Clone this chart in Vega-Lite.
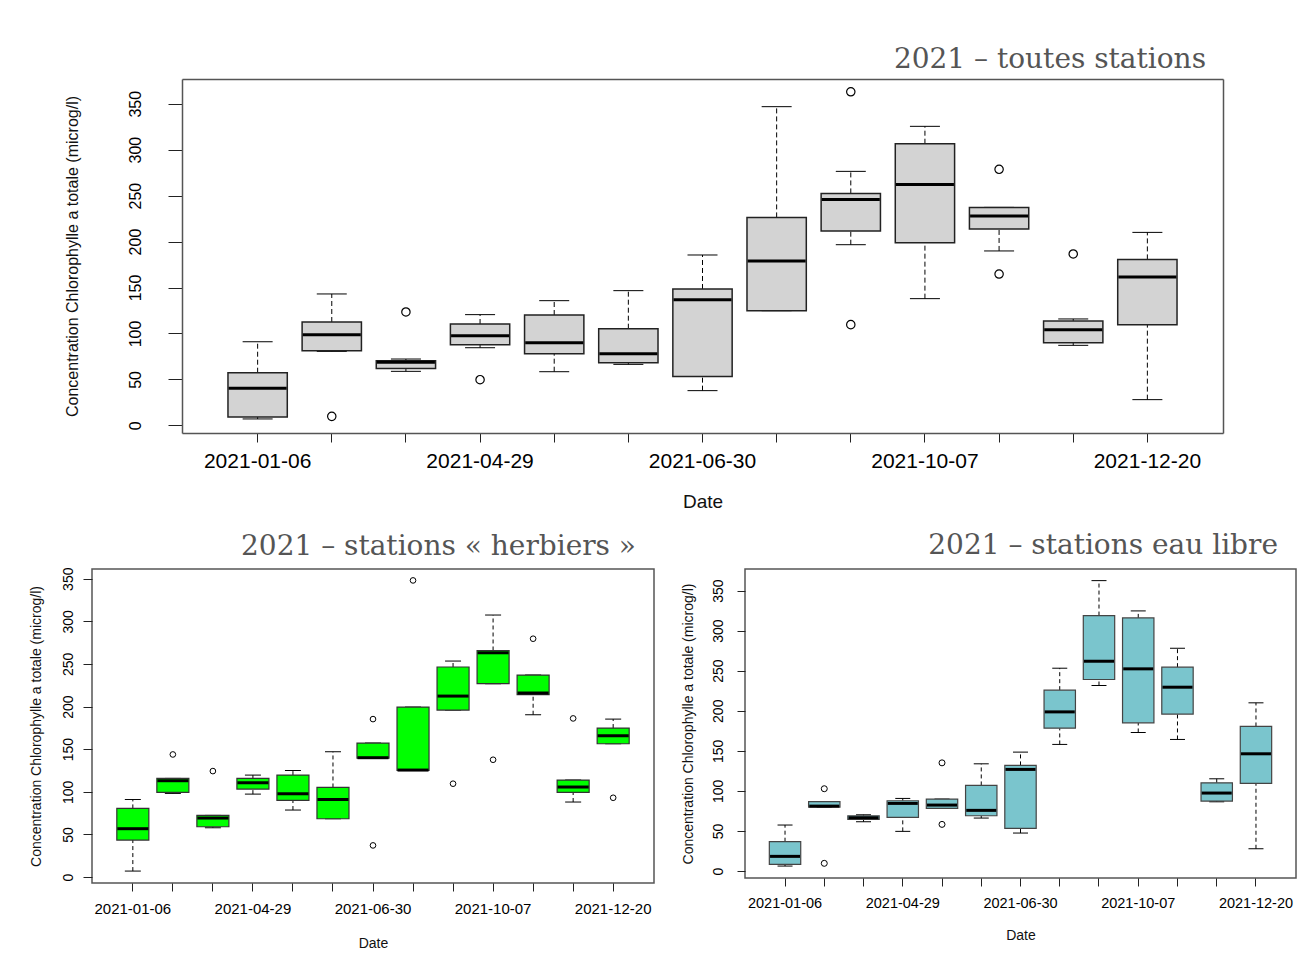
{
  "$schema": "https://vega.github.io/schema/vega-lite/v6.json",
  "background": "white",
  "padding": {"left": 28, "top": 46, "right": 0, "bottom": 0},
  "config": {
    "font": "Liberation Sans",
    "axis": {"labelColor": "#000", "titleColor": "#111", "tickColor": "#222", "labelFont": "Liberation Sans", "titleFont": "Liberation Sans", "titleFontWeight": "normal", "grid": false},
    "view": {"stroke": "#555", "strokeWidth": 1.5}
  },
  "datasets": {
    "toutes": [
      {"date": "2021-01-06", "min": 7.0, "q1": 9.1, "median": 40.3, "q3": 57.3, "max": 91},
      {"date": "2021-02-09", "min": 80.5, "q1": 81.3, "median": 98.7, "q3": 112.5, "max": 143},
      {"date": "2021-03-25", "min": 58.8, "q1": 62, "median": 68.6, "q3": 70.4, "max": 72.2},
      {"date": "2021-04-29", "min": 84.5, "q1": 87.8, "median": 97.6, "q3": 110.3, "max": 120.5},
      {"date": "2021-05-27", "min": 58.4, "q1": 78, "median": 90, "q3": 120.1, "max": 135.7},
      {"date": "2021-06-15", "min": 66.4, "q1": 68.2, "median": 78, "q3": 105.2, "max": 146.6},
      {"date": "2021-06-30", "min": 37.8, "q1": 53.3, "median": 136.8, "q3": 148.4, "max": 185.4},
      {"date": "2021-07-29", "min": 124.8, "q1": 124.8, "median": 178.9, "q3": 226.3, "max": 346.8},
      {"date": "2021-09-01", "min": 196.6, "q1": 211.5, "median": 245.9, "q3": 252.4, "max": 276.4},
      {"date": "2021-10-07", "min": 137.9, "q1": 198.8, "median": 262.2, "q3": 306.5, "max": 325.4},
      {"date": "2021-11-04", "min": 189.8, "q1": 213.7, "median": 227.8, "q3": 237.2, "max": 237.2},
      {"date": "2021-12-02", "min": 87.1, "q1": 90, "median": 104.1, "q3": 113.6, "max": 115.8},
      {"date": "2021-12-20", "min": 28, "q1": 109.6, "median": 161.5, "q3": 180.6, "max": 210}
    ],
    "toutes_out": [
      {"date": "2021-02-09", "value": 9.8},
      {"date": "2021-03-25", "value": 123.4},
      {"date": "2021-04-29", "value": 49.7},
      {"date": "2021-09-01", "value": 363},
      {"date": "2021-09-01", "value": 109.6},
      {"date": "2021-11-04", "value": 278.6},
      {"date": "2021-11-04", "value": 164.7},
      {"date": "2021-12-02", "value": 186.5}
    ],
    "herbiers": [
      {"date": "2021-01-06", "min": 7.0, "q1": 43.4, "median": 56.7, "q3": 80.5, "max": 91},
      {"date": "2021-02-09", "min": 98.1, "q1": 99.3, "median": 113, "q3": 115.7, "max": 115.7},
      {"date": "2021-03-25", "min": 57.8, "q1": 59, "median": 69.2, "q3": 72.3, "max": 72.3},
      {"date": "2021-04-29", "min": 97.3, "q1": 103.2, "median": 110.6, "q3": 115.7, "max": 119.6},
      {"date": "2021-05-27", "min": 78.6, "q1": 89.9, "median": 97.7, "q3": 119.6, "max": 125},
      {"date": "2021-06-15", "min": 68.4, "q1": 68.4, "median": 91, "q3": 105.1, "max": 147},
      {"date": "2021-06-30", "min": 139.5, "q1": 139.5, "median": 140, "q3": 157.2, "max": 157.2},
      {"date": "2021-07-29", "min": 125, "q1": 125, "median": 125.5, "q3": 199.4, "max": 199.4},
      {"date": "2021-09-01", "min": 195.9, "q1": 195.9, "median": 212.3, "q3": 246.4, "max": 253.4},
      {"date": "2021-10-07", "min": 226.8, "q1": 226.8, "median": 263.1, "q3": 265.8, "max": 307.4},
      {"date": "2021-11-04", "min": 190.4, "q1": 213.9, "median": 215.9, "q3": 237, "max": 237},
      {"date": "2021-12-02", "min": 88, "q1": 99.3, "median": 105.6, "q3": 113.8, "max": 113.8},
      {"date": "2021-12-20", "min": 156.4, "q1": 156.4, "median": 165.8, "q3": 174.8, "max": 185.3}
    ],
    "herbiers_out": [
      {"date": "2021-02-09", "value": 143.8},
      {"date": "2021-03-25", "value": 124.3},
      {"date": "2021-06-30", "value": 185.3},
      {"date": "2021-06-30", "value": 37.1},
      {"date": "2021-07-29", "value": 348},
      {"date": "2021-09-01", "value": 109.5},
      {"date": "2021-10-07", "value": 137.6},
      {"date": "2021-11-04", "value": 279.6},
      {"date": "2021-12-02", "value": 186.1},
      {"date": "2021-12-20", "value": 93}
    ],
    "libre": [
      {"date": "2021-01-06", "min": 6.2, "q1": 8.3, "median": 18.3, "q3": 36.6, "max": 57.4},
      {"date": "2021-02-09", "min": 79.8, "q1": 79.8, "median": 81, "q3": 86.5, "max": 86.5},
      {"date": "2021-03-25", "min": 61.5, "q1": 64.4, "median": 66.5, "q3": 69, "max": 70.2},
      {"date": "2021-04-29", "min": 49.5, "q1": 67, "median": 84.4, "q3": 87.7, "max": 90.6},
      {"date": "2021-05-27", "min": 78.2, "q1": 78.2, "median": 82.3, "q3": 89.8, "max": 89.8},
      {"date": "2021-06-15", "min": 66.1, "q1": 69, "median": 75.7, "q3": 106.8, "max": 133.8},
      {"date": "2021-06-30", "min": 47.4, "q1": 53.2, "median": 126.8, "q3": 131.8, "max": 148.4},
      {"date": "2021-07-29", "min": 158, "q1": 178.3, "median": 198.6, "q3": 225.7, "max": 253.1},
      {"date": "2021-09-01", "min": 231.5, "q1": 239, "median": 261.8, "q3": 318.8, "max": 362.4},
      {"date": "2021-10-07", "min": 172.9, "q1": 184.9, "median": 252.3, "q3": 315.9, "max": 324.6},
      {"date": "2021-11-04", "min": 164.2, "q1": 195.8, "median": 229.4, "q3": 254.4, "max": 278},
      {"date": "2021-12-02", "min": 86.4, "q1": 87.3, "median": 97.3, "q3": 110.1, "max": 115.1},
      {"date": "2021-12-20", "min": 27.8, "q1": 109.4, "median": 146.3, "q3": 180.4, "max": 209.9}
    ],
    "libre_out": [
      {"date": "2021-02-09", "value": 102.7},
      {"date": "2021-02-09", "value": 9.6},
      {"date": "2021-05-27", "value": 135},
      {"date": "2021-05-27", "value": 58.2}
    ]
  },
  "spacing": 20,
  "center": false,
  "vconcat": [
    {
      "width": 1131,
      "height": 354,
      "view": {"stroke": null},
      "title": {"text": "2021 – toutes stations", "anchor": "end", "frame": "group", "dx": -17, "offset": 5, "font": "DejaVu Serif", "fontSize": 28, "fontWeight": "normal", "color": "#555"},
      "data": {"name": "toutes"},
      "resolve": {"axis": {"x": "independent", "y": "independent"}},
      "layer": [
        {
          "mark": {"type": "rule", "strokeDash": [5, 3], "color": "#000", "strokeWidth": 1},
          "encoding": {
            "x": {"field": "date", "type": "ordinal", "scale": {"type": "band", "domain": ["2021-01-06","2021-02-09","2021-03-25","2021-04-29","2021-05-27","2021-06-15","2021-06-30","2021-07-29","2021-09-01","2021-10-07","2021-11-04","2021-12-02","2021-12-20"], "range": [90, 1131], "paddingInner": 0, "paddingOuter": 0.52},
              "axis": {"orient": "bottom", "title": "Date", "domain": true, "domainColor": "#555", "domainWidth": 1.5, "tickSize": 9, "labelAngle": 0, "labelFontSize": 21, "labelPadding": 8, "labelOverlap": false, "titleFontSize": 19, "titlePadding": 21,
                "labelExpr": "indexof(['2021-01-06','2021-04-29','2021-06-30','2021-10-07','2021-12-20'], datum.value) >= 0 ? datum.value : ''"}},
            "y": {"field": "q3", "type": "quantitative", "scale": {"domain": [-8.3, 376.9], "nice": false, "zero": false},
              "axis": {"orient": "left", "offset": -90, "title": "Concentration Chlorophylle a totale (microg/l)", "values": [0, 50, 100, 150, 200, 250, 300, 350], "domain": true, "domainColor": "#555", "domainWidth": 1.5, "tickSize": 14, "labelAngle": 270, "labelAlign": "center", "labelBaseline": "bottom", "labelFontSize": 16, "labelPadding": 25, "titleFontSize": 16, "titlePadding": 47}},
            "y2": {"field": "max"}
          }
        },
        {
          "mark": {"type": "rule", "strokeDash": [5, 3], "color": "#000", "strokeWidth": 1},
          "encoding": {
            "x": {"field": "date", "type": "ordinal", "scale": {"type": "band"},
              "axis": {"orient": "top", "title": null, "domain": true, "domainColor": "#555", "domainWidth": 1.5, "ticks": false, "labels": false, "minExtent": 0}},
            "y": {"field": "min", "type": "quantitative",
              "axis": {"orient": "right", "title": null, "domain": true, "domainColor": "#555", "domainWidth": 1.5, "ticks": false, "labels": false, "minExtent": 0}},
            "y2": {"field": "q1"}
          }
        },
        {
          "mark": {"type": "tick", "size": 30, "thickness": 1, "color": "#000", "opacity": 1},
          "encoding": {
            "x": {"field": "date", "type": "ordinal", "scale": {"type": "band"}, "axis": null},
            "y": {"field": "max", "type": "quantitative", "axis": null}
          }
        },
        {
          "mark": {"type": "tick", "size": 30, "thickness": 1, "color": "#000", "opacity": 1},
          "encoding": {
            "x": {"field": "date", "type": "ordinal", "scale": {"type": "band"}, "axis": null},
            "y": {"field": "min", "type": "quantitative", "axis": null}
          }
        },
        {
          "mark": {"type": "bar", "width": {"band": 0.8}, "fill": "#D3D3D3", "stroke": "#222", "strokeWidth": 1.5},
          "encoding": {
            "x": {"field": "date", "type": "ordinal", "scale": {"type": "band"}, "axis": null},
            "y": {"field": "q1", "type": "quantitative", "axis": null},
            "y2": {"field": "q3"}
          }
        },
        {
          "mark": {"type": "tick", "size": 58, "thickness": 3, "color": "#000", "opacity": 1},
          "encoding": {
            "x": {"field": "date", "type": "ordinal", "scale": {"type": "band"}, "axis": null},
            "y": {"field": "median", "type": "quantitative", "axis": null}
          }
        },
        {
          "data": {"name": "toutes_out"},
          "mark": {"type": "point", "shape": "circle", "filled": false, "size": 70, "stroke": "#000", "strokeWidth": 1.2, "opacity": 1},
          "encoding": {
            "x": {"field": "date", "type": "ordinal", "scale": {"type": "band"}, "axis": null},
            "y": {"field": "value", "type": "quantitative", "axis": null}
          }
        }
      ]
    },
    {
      "spacing": 25,
      "center": false,
      "hconcat": [
        {
          "width": 562,
          "height": 314,
          "view": {"stroke": "#555", "strokeWidth": 1.5},
          "title": {"text": "2021 – stations « herbiers »", "anchor": "end", "frame": "group", "dx": -18, "offset": 6, "font": "DejaVu Serif", "fontSize": 28, "fontWeight": "normal", "color": "#555"},
          "data": {"name": "herbiers"},
          "resolve": {"axis": {"x": "independent", "y": "independent"}},
          "layer": [
            {
              "mark": {"type": "rule", "strokeDash": [4, 3], "color": "#000", "strokeWidth": 1},
              "encoding": {
                "x": {"field": "date", "type": "ordinal", "scale": {"type": "band", "domain": ["2021-01-06","2021-02-09","2021-03-25","2021-04-29","2021-05-27","2021-06-15","2021-06-30","2021-07-29","2021-09-01","2021-10-07","2021-11-04","2021-12-02","2021-12-20"], "paddingInner": 0, "paddingOuter": 0.52},
                  "axis": {"orient": "bottom", "title": "Date", "domain": false, "tickSize": 8, "labelAngle": 0, "labelFontSize": 15, "labelPadding": 10, "labelOverlap": false, "titleFontSize": 14, "titlePadding": 20,
                    "labelExpr": "indexof(['2021-01-06','2021-04-29','2021-06-30','2021-10-07','2021-12-20'], datum.value) >= 0 ? datum.value : ''"}},
                "y": {"field": "q3", "type": "quantitative", "scale": {"domain": [-7.0, 361.4], "nice": false, "zero": false},
                  "axis": {"orient": "left", "title": "Concentration Chlorophylle a totale (microg/l)", "values": [0, 50, 100, 150, 200, 250, 300, 350], "domain": false, "tickSize": 9, "labelAngle": 270, "labelAlign": "center", "labelBaseline": "bottom", "labelFontSize": 14, "labelPadding": 8, "titleFontSize": 14, "titlePadding": 18}},
                "y2": {"field": "max"}
              }
            },
            {
              "mark": {"type": "rule", "strokeDash": [4, 3], "color": "#000", "strokeWidth": 1},
              "encoding": {
                "x": {"field": "date", "type": "ordinal", "scale": {"type": "band"}, "axis": null},
                "y": {"field": "min", "type": "quantitative", "axis": null},
                "y2": {"field": "q1"}
              }
            },
            {
              "mark": {"type": "tick", "size": 16, "thickness": 1, "color": "#000", "opacity": 1},
              "encoding": {
                "x": {"field": "date", "type": "ordinal", "scale": {"type": "band"}, "axis": null},
                "y": {"field": "max", "type": "quantitative", "axis": null}
              }
            },
            {
              "mark": {"type": "tick", "size": 16, "thickness": 1, "color": "#000", "opacity": 1},
              "encoding": {
                "x": {"field": "date", "type": "ordinal", "scale": {"type": "band"}, "axis": null},
                "y": {"field": "min", "type": "quantitative", "axis": null}
              }
            },
            {
              "mark": {"type": "bar", "width": {"band": 0.8}, "fill": "#00FF00", "stroke": "#333", "strokeWidth": 1.2},
              "encoding": {
                "x": {"field": "date", "type": "ordinal", "scale": {"type": "band"}, "axis": null},
                "y": {"field": "q1", "type": "quantitative", "axis": null},
                "y2": {"field": "q3"}
              }
            },
            {
              "mark": {"type": "tick", "size": 31, "thickness": 3, "color": "#000", "opacity": 1},
              "encoding": {
                "x": {"field": "date", "type": "ordinal", "scale": {"type": "band"}, "axis": null},
                "y": {"field": "median", "type": "quantitative", "axis": null}
              }
            },
            {
              "data": {"name": "herbiers_out"},
              "mark": {"type": "point", "shape": "circle", "filled": false, "size": 32, "stroke": "#000", "strokeWidth": 1, "opacity": 1},
              "encoding": {
                "x": {"field": "date", "type": "ordinal", "scale": {"type": "band"}, "axis": null},
                "y": {"field": "value", "type": "quantitative", "axis": null}
              }
            }
          ]
        },
        {
          "width": 551,
          "height": 309,
          "view": {"stroke": "#555", "strokeWidth": 1.5},
          "title": {"text": "2021 – stations eau libre", "anchor": "end", "frame": "group", "dx": -18, "offset": 9, "font": "DejaVu Serif", "fontSize": 28, "fontWeight": "normal", "color": "#555"},
          "data": {"name": "libre"},
          "resolve": {"axis": {"x": "independent", "y": "independent"}},
          "layer": [
            {
              "mark": {"type": "rule", "strokeDash": [4, 3], "color": "#000", "strokeWidth": 1},
              "encoding": {
                "x": {"field": "date", "type": "ordinal", "scale": {"type": "band", "domain": ["2021-01-06","2021-02-09","2021-03-25","2021-04-29","2021-05-27","2021-06-15","2021-06-30","2021-07-29","2021-09-01","2021-10-07","2021-11-04","2021-12-02","2021-12-20"], "paddingInner": 0, "paddingOuter": 0.52},
                  "axis": {"orient": "bottom", "title": "Date", "domain": false, "tickSize": 8, "labelAngle": 0, "labelFontSize": 14.5, "labelPadding": 10, "labelOverlap": false, "titleFontSize": 14, "titlePadding": 19,
                    "labelExpr": "indexof(['2021-01-06','2021-04-29','2021-06-30','2021-10-07','2021-12-20'], datum.value) >= 0 ? datum.value : ''"}},
                "y": {"field": "q3", "type": "quantitative", "scale": {"domain": [-8.7, 376.9], "nice": false, "zero": false},
                  "axis": {"orient": "left", "title": "Concentration Chlorophylle a totale (microg/l)", "values": [0, 50, 100, 150, 200, 250, 300, 350], "domain": false, "tickSize": 8, "labelAngle": 270, "labelAlign": "center", "labelBaseline": "bottom", "labelFontSize": 14, "labelPadding": 12, "titleFontSize": 14, "titlePadding": 16}},
                "y2": {"field": "max"}
              }
            },
            {
              "mark": {"type": "rule", "strokeDash": [4, 3], "color": "#000", "strokeWidth": 1},
              "encoding": {
                "x": {"field": "date", "type": "ordinal", "scale": {"type": "band"}, "axis": null},
                "y": {"field": "min", "type": "quantitative", "axis": null},
                "y2": {"field": "q1"}
              }
            },
            {
              "mark": {"type": "tick", "size": 15, "thickness": 1, "color": "#000", "opacity": 1},
              "encoding": {
                "x": {"field": "date", "type": "ordinal", "scale": {"type": "band"}, "axis": null},
                "y": {"field": "max", "type": "quantitative", "axis": null}
              }
            },
            {
              "mark": {"type": "tick", "size": 15, "thickness": 1, "color": "#000", "opacity": 1},
              "encoding": {
                "x": {"field": "date", "type": "ordinal", "scale": {"type": "band"}, "axis": null},
                "y": {"field": "min", "type": "quantitative", "axis": null}
              }
            },
            {
              "mark": {"type": "bar", "width": {"band": 0.8}, "fill": "#7AC5CD", "stroke": "#444", "strokeWidth": 1.2},
              "encoding": {
                "x": {"field": "date", "type": "ordinal", "scale": {"type": "band"}, "axis": null},
                "y": {"field": "q1", "type": "quantitative", "axis": null},
                "y2": {"field": "q3"}
              }
            },
            {
              "mark": {"type": "tick", "size": 30, "thickness": 3, "color": "#000", "opacity": 1},
              "encoding": {
                "x": {"field": "date", "type": "ordinal", "scale": {"type": "band"}, "axis": null},
                "y": {"field": "median", "type": "quantitative", "axis": null}
              }
            },
            {
              "data": {"name": "libre_out"},
              "mark": {"type": "point", "shape": "circle", "filled": false, "size": 36, "stroke": "#000", "strokeWidth": 1, "opacity": 1},
              "encoding": {
                "x": {"field": "date", "type": "ordinal", "scale": {"type": "band"}, "axis": null},
                "y": {"field": "value", "type": "quantitative", "axis": null}
              }
            }
          ]
        }
      ]
    }
  ]
}
